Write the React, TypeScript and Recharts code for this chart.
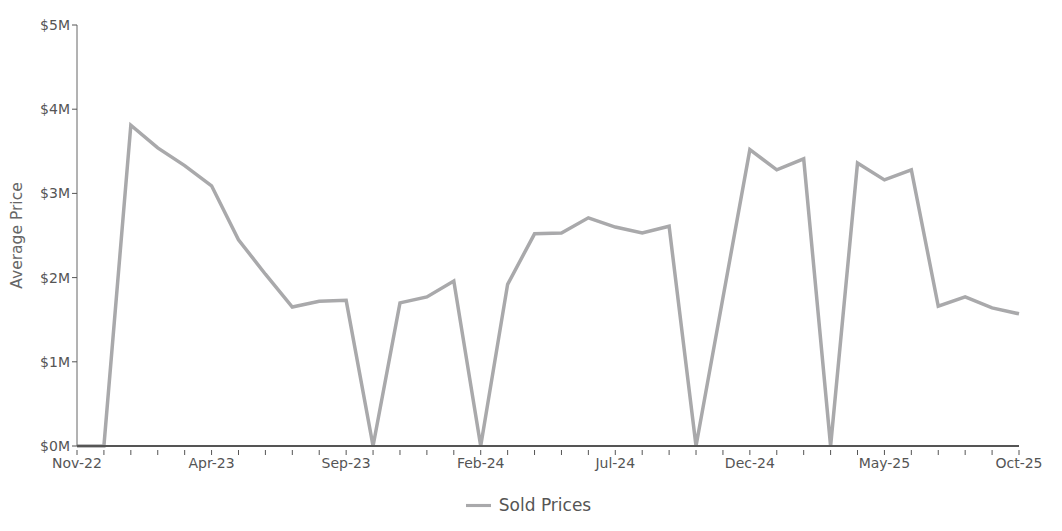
import { LineChart, Line, XAxis, YAxis, Legend } from "recharts";

const MONTHS = [
  "Nov-22", "Dec-22", "Jan-23", "Feb-23", "Mar-23", "Apr-23", "May-23", "Jun-23", "Jul-23",
  "Aug-23", "Sep-23", "Oct-23", "Nov-23", "Dec-23", "Jan-24", "Feb-24", "Mar-24", "Apr-24",
  "May-24", "Jun-24", "Jul-24", "Aug-24", "Sep-24", "Oct-24", "Nov-24", "Dec-24", "Jan-25",
  "Feb-25", "Mar-25", "Apr-25", "May-25", "Jun-25", "Jul-25", "Aug-25", "Sep-25", "Oct-25",
];

// average sold price, $M
const SOLD = [
  0, 0, 3.81, 3.54, 3.33, 3.09, 2.45, 2.04, 1.65,
  1.72, 1.73, 0, 1.70, 1.77, 1.96, 0, 1.92, 2.52,
  2.53, 2.71, 2.60, 2.53, 2.61, 0, 1.76, 3.52, 3.28,
  3.41, 0, 3.36, 3.16, 3.28, 1.66, 1.77, 1.64, 1.57,
];

const Y_TICKS = [0, 1, 2, 3, 4, 5];

const data = MONTHS.map((m, i) => ({ month: m, sold: SOLD[i] * 1_000_000 }));

const FONT = "'DejaVu Sans', Verdana, sans-serif";

function MonthTick(props: any) {
  const { x, y, payload, index } = props;
  const showLabel = index % 5 === 0;
  return (
    <g>
      <line x1={x} y1={y - 4} x2={x} y2={y + 1} stroke="#555" strokeWidth={1} />
      {showLabel && (
        <text x={x} y={y + 14} textAnchor="middle" fontSize={14} fill="#555" fontFamily={FONT}>
          {payload.value}
        </text>
      )}
    </g>
  );
}

export default function App() {
  return (
    <div style={{ position: "absolute", left: 0, top: 0, background: "#fff" }}>
      <LineChart
        width={1062}
        height={531}
        data={data}
        margin={{ top: 25, right: 43, bottom: 0, left: 0 }}
      >
        <XAxis
          dataKey="month"
          interval={0}
          height={30}
          tickLine={false}
          tick={<MonthTick />}
          axisLine={{ stroke: "#555", strokeWidth: 2 }}
        />
        <YAxis
          width={77}
          domain={[0, 5_000_000]}
          ticks={Y_TICKS.map((t) => t * 1_000_000)}
          tickFormatter={(v) => `$${v / 1_000_000}M`}
          tick={{ fontSize: 14, fill: "#555", fontFamily: FONT }}
          tickSize={5}
          tickLine={{ stroke: "#555" }}
          axisLine={{ stroke: "#666" }}
          label={{
            value: "Average Price",
            angle: -90,
            position: "insideLeft",
            offset: 16,
            style: { fontSize: 15.5, fill: "#666", fontFamily: FONT, textAnchor: "middle" },
          }}
        />
        <Legend
          verticalAlign="bottom"
          height={55}
          iconType="plainline"
          iconSize={25}
          wrapperStyle={{
            fontFamily: FONT,
            fontSize: 17,
            color: "#555",
            paddingTop: 17,
            boxSizing: "border-box",
            height: 55,
            left: 24,
          }}
          formatter={(v) => <span style={{ color: "#555", marginLeft: 4 }}>{v}</span>}
        />
        <Line
          type="linear"
          dataKey="sold"
          name="Sold Prices"
          stroke="#a9a9ab"
          strokeWidth={3.5}
          dot={false}
          activeDot={false}
          isAnimationActive={false}
        />
      </LineChart>
    </div>
  );
}
